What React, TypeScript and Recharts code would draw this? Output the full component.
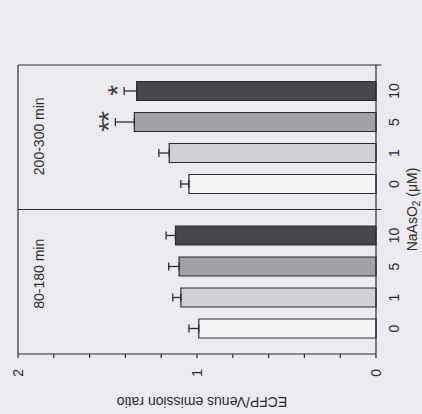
import React from 'react';
import { BarChart, Bar, XAxis, YAxis, ErrorBar, LabelList, ReferenceLine } from 'recharts';

// ---------------------------------------------------------------------------
// Data — ECFP/Venus emission ratio per NaAsO2 dose, two time windows
// ---------------------------------------------------------------------------

const WINDOWS = ['80-180 min', '200-300 min'];
const DOSES = ['0', '1', '5', '10'];

const RATIO_0 = [0.99, 1.045];
const RATIO_1 = [1.09, 1.155];
const RATIO_5 = [1.1, 1.35];
const RATIO_10 = [1.12, 1.337];

const SEM_0 = [0.055, 0.045];
const SEM_1 = [0.045, 0.058];
const SEM_5 = [0.058, 0.106];
const SEM_10 = [0.053, 0.07];

const SIG_0 = ['', ''];
const SIG_1 = ['', ''];
const SIG_5 = ['', '**'];
const SIG_10 = ['', '*'];

const RATIO_TICKS = [0, 0.2, 0.4, 0.6, 0.8, 1, 1.2, 1.4, 1.6, 1.8, 2];

// ---------------------------------------------------------------------------
// Styles
// ---------------------------------------------------------------------------

const INK = '#2c2c30';
const PAPER = '#ebebf0';
const FONT = 'Liberation Sans, Arimo, Arial, Helvetica, sans-serif';
const TXT = { fontFamily: FONT };

const SERIES = [
  { key: 'r0', err: 'e0', dose: DOSES[0], fill: '#f5f5f8', sem: SEM_0, sig: SIG_0 },
  { key: 'r1', err: 'e1', dose: DOSES[1], fill: '#d0d0d6', sem: SEM_1, sig: SIG_1 },
  { key: 'r5', err: 'e5', dose: DOSES[2], fill: '#a1a1a7', sem: SEM_5, sig: SIG_5 },
  { key: 'r10', err: 'e10', dose: DOSES[3], fill: '#47474b', sem: SEM_10, sig: SIG_10 },
];

const data = WINDOWS.map((w, i) => ({
  window: w,
  r0: RATIO_0[i], e0: [0, SEM_0[i]],
  r1: RATIO_1[i], e1: [0, SEM_1[i]],
  r5: RATIO_5[i], e5: [0, SEM_5[i]],
  r10: RATIO_10[i], e10: [0, SEM_10[i]],
}));

// ---------------------------------------------------------------------------
// Labels
// ---------------------------------------------------------------------------

function box(props: any) {
  return props.viewBox && props.viewBox.width != null ? props.viewBox : props;
}

function DoseLabel(props: any) {
  const { x, y, width, height } = box(props);
  return (
    <text x={x + width / 2} y={y + height + 22.5} textAnchor="middle"
      fontSize={14} style={TXT} fill={INK}>
      {props.dose}
    </text>
  );
}

function SigLabel(props: any) {
  const i = props.index ?? 0;
  const mark = props.sig[i];
  if (!mark) return null;
  const { x, y, width, height } = box(props);
  const perUnit = height / Number(props.value);
  const errTop = y - props.sem[i] * perUnit;
  return (
    <text x={x + width / 2} y={errTop + 2.5} textAnchor="middle"
      fontSize={28} letterSpacing={-1.2} style={TXT} fill="#3a3a3e">
      {mark}
    </text>
  );
}

function WindowLabel(props: any) {
  const vb = props.viewBox;
  return (
    <text x={vb.x + props.shift} y={vb.y + 25.5} textAnchor="middle"
      fontSize={14} style={TXT} fill={INK}>
      {props.text}
    </text>
  );
}

function RatioTitle(props: any) {
  const vb = props.viewBox;
  const x = vb.x + 17;
  const y = vb.y + vb.height / 2 + 5;
  return (
    <text x={x} y={y} transform={`rotate(-90, ${x}, ${y})`} textAnchor="middle"
      fontSize={14} style={TXT} fill={INK}>
      ECFP/Venus emission ratio
    </text>
  );
}

function DoseTitle(props: any) {
  const vb = props.viewBox;
  return (
    <text x={vb.x + vb.width / 2} y={vb.y + vb.height - 5} textAnchor="middle"
      fontSize={14} style={TXT} fill={INK}>
      NaAsO<tspan dy={3} fontSize={10}>2</tspan><tspan dy={-3}> (μM)</tspan>
    </text>
  );
}

// ---------------------------------------------------------------------------
// Chart — drawn upright, then the whole figure is turned 90° like the scan
// ---------------------------------------------------------------------------

export default function App() {
  return (
    <div style={{ position: 'fixed', left: 0, top: 0, width: 422, height: 414, background: PAPER, overflow: 'hidden', fontFamily: FONT }}>
      <div style={{
        position: 'absolute', left: 0, top: 0, width: 414, height: 422,
        transformOrigin: '0 0', transform: 'translate(0px, 414px) rotate(-90deg)',
      }}>
        <BarChart width={414} height={422} data={data} barGap={12}
          margin={{ top: 18, right: 65, bottom: 0, left: 0 }}>
          <XAxis dataKey="window" height={46} tick={false} tickLine={false}
            axisLine={{ stroke: INK, strokeWidth: 1.2 }} label={<DoseTitle />} />
          <YAxis domain={[0, 2]} ticks={RATIO_TICKS} interval={0} width={60}
            tickFormatter={(v: number) => (Number.isInteger(v) ? String(v) : '')}
            tickSize={4} tickMargin={11}
            tick={{ fill: INK, fontSize: 14, style: TXT }}
            tickLine={{ stroke: INK, strokeWidth: 1.2 }}
            axisLine={{ stroke: INK, strokeWidth: 1.2 }}
            label={<RatioTitle />} />

          {SERIES.map((s) => (
            <Bar key={s.key} dataKey={s.key} fill={s.fill} stroke={INK} strokeWidth={1.2}
              barSize={19} isAnimationActive={false}>
              <ErrorBar dataKey={s.err} width={4} stroke={INK} strokeWidth={1.3} isAnimationActive={false} />
              <LabelList dataKey={s.key} content={(p: any) => <DoseLabel {...p} dose={s.dose} />} />
              <LabelList dataKey={s.key} content={(p: any) => <SigLabel {...p} sig={s.sig} sem={s.sem} />} />
            </Bar>
          ))}

          {/* frame: top edge, panel divider and right edge */}
          <ReferenceLine y={2} stroke={INK} strokeWidth={1.2} ifOverflow="visible" />
          {WINDOWS.map((w) => (
            <ReferenceLine key={'edge-' + w} segment={[{ x: w, y: -0.03 }, { x: w, y: 2 }]}
              position="end" ifOverflow="visible" stroke={INK} strokeWidth={1.2} />
          ))}
          {WINDOWS.map((w, i) => (
            <ReferenceLine key={'title-' + w} x={w} stroke="none"
              label={<WindowLabel text={w} shift={i === 0 ? 8 : 1} />} />
          ))}
        </BarChart>
      </div>
    </div>
  );
}
